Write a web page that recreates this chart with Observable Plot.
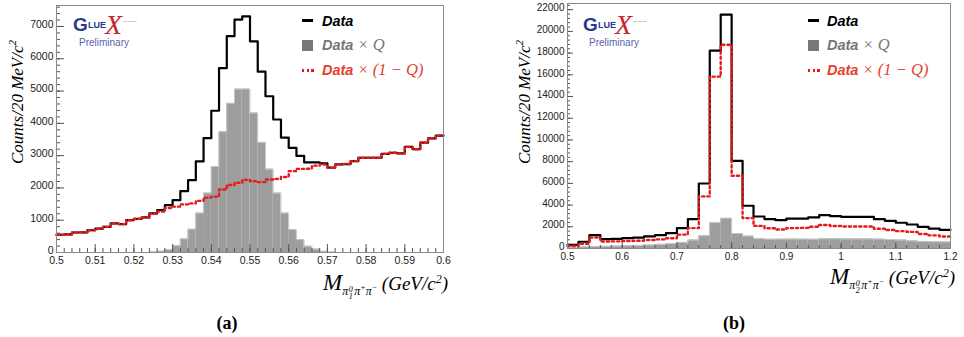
<!DOCTYPE html>
<html><head><meta charset="utf-8">
<script src="https://cdn.jsdelivr.net/npm/d3@7"></script>
<script src="https://cdn.jsdelivr.net/npm/@observablehq/plot@0.6"></script>
<style>
body{margin:0;background:#fff;}
#fig{position:relative;width:964px;height:337px;overflow:hidden;background:#fff;}
#fig svg{position:absolute;top:0;}
.ov{position:absolute;white-space:nowrap;line-height:1;}
.ytitle{font-family:"Liberation Serif","Times New Roman",serif;font-style:italic;font-size:17px;color:#000;transform:translate(-50%,-50%) rotate(-90deg);}
.xtitle{font-family:"Liberation Serif","Times New Roman",serif;font-style:italic;color:#000;transform:translateX(-100%);}
.xtitle .M{font-size:23px;}
.xtitle .sub{font-size:12px;position:relative;top:5px;}
.xtitle .stk{display:inline-block;vertical-align:-4px;font-size:8px;line-height:7.5px;text-align:center;margin:0 1.5px 0 0.5px;}
.xtitle .unit{font-size:19px;}
.cap{font-family:"Liberation Serif","Times New Roman",serif;font-weight:bold;font-size:18px;transform:translateX(-50%);}
.leg{font-family:"Liberation Sans",Arial,sans-serif;font-weight:bold;font-style:italic;font-size:14.5px;transform:translateY(-50%);}
.leg .ser{font-family:"Liberation Serif","Times New Roman",serif;font-weight:normal;font-size:16.5px;}
.logoG{font-family:"Liberation Sans",Arial,sans-serif;font-weight:bold;color:#2b3592;}
.logoX{font-family:"Liberation Serif",serif;font-style:italic;color:#c4262e;}
.prelim{font-family:"Liberation Sans",Arial,sans-serif;font-size:10px;color:#5a62b0;}
</style></head><body><div id="fig"></div>
<script>
// ---------- data: panel (a)  M(pi1^0 pi+ pi-), bins of 0.002 GeV from 0.5 ----------
const binStartA = 0.5, binWidthA = 0.002, nBinsA = 50;
const dataA = [550,560,620,625,690,740,795,900,880,1000,1040,1085,1210,1310,1465,1620,1900,2240,2820,3540,
  4390,5710,6700,7215,7315,6540,5600,4840,4120,3560,3240,2990,2790,2790,2760,2630,2730,2740,2830,2935,
  2935,2935,3055,3090,3070,3270,3200,3400,3535,3620];
const dataQA = [0,0,0,0,0,0,0,0,0,0,0,0,15,40,90,210,420,720,1220,1840,
  2660,3740,4620,5060,5060,4320,3410,2580,1840,1220,710,400,195,105,35,10,0,0,0,0,
  0,0,0,0,0,0,0,0,0,0];
const data1mQA = [550,560,620,625,690,740,795,900,880,1000,1040,1085,1195,1270,1380,1420,1490,1520,1600,1700,
  1730,1950,2090,2160,2250,2210,2180,2260,2280,2340,2520,2590,2595,2690,2725,2620,2730,2740,2830,2935,
  2935,2935,3055,3090,3070,3270,3200,3400,3535,3620];
const xTicksA = [0.5,0.51,0.52,0.53,0.54,0.55,0.56,0.57,0.58,0.59,0.6];
const yTicksA = [0,1000,2000,3000,4000,5000,6000,7000];

// ---------- data: panel (b)  M(pi2^0 pi+ pi-), bins of 0.02 GeV from 0.5 ----------
const binStartB = 0.5, binWidthB = 0.02, nBinsB = 35;
const dataB = [340,620,1230,860,890,950,1010,1110,1230,1410,1870,2700,5990,18220,21540,8080,3940,2950,2700,2610,
  2760,2760,2860,3070,2980,2920,2920,2920,2700,2550,2370,2210,2000,1840,1720];
const dataQB = [100,150,180,200,220,250,280,320,380,450,560,780,1170,2390,2780,1380,1140,900,850,860,
  870,860,850,900,900,880,880,880,860,830,780,700,650,620,600];
const data1mQB = [230,430,1020,650,660,690,720,780,840,950,1280,1880,4800,15830,18770,6700,2800,2080,1860,1750,
  1880,1900,2000,2160,2070,2030,2030,2030,1820,1700,1600,1530,1330,1210,1100];
const xTicksB = [0.5,0.6,0.7,0.8,0.9,1,1.1,1.2];
const yTicksB = [0,2000,4000,6000,8000,10000,12000,14000,16000,18000,20000,22000];

const RED = "#e41a1c";
const fig = document.getElementById("fig");

function panel(o) {
  const frameW = o.W - o.ml - o.mr, frameH = o.H - o.mt - o.mb;
  const rows = o.data.map((d, i) => {
    const x1 = +(o.start + i * o.bw).toFixed(4);
    return {x1, x2: +(x1 + o.bw).toFixed(4), data: d, q: o.q[i], bkg: o.bkg[i]};
  });
  const steps = key => rows.flatMap(r => [{x: r.x1, y: r[key]}, {x: r.x2, y: r[key]}]);
  const yMinor = d3.range(0, o.yDomain[1], o.yMinorStep);
  const xMinor = d3.range(0, Math.round((o.xDomain[1] - o.xDomain[0]) / o.xMinorStep) + 1)
    .map(i => +(o.xDomain[0] + i * o.xMinorStep).toFixed(4));
  const svg = Plot.plot({
    width: o.W, height: o.H,
    marginLeft: o.ml, marginRight: o.mr, marginTop: o.mt, marginBottom: o.mb,
    x: {domain: o.xDomain},
    y: {domain: o.yDomain},
    style: {fontFamily: '"Liberation Sans", Arial, sans-serif', fontSize: o.fs + "px", color: "#222", background: "transparent", overflow: "visible"},
    marks: [
      Plot.rectY(rows, {x1: "x1", x2: "x2", y: "q", fill: "#9d9d9d"}),
      Plot.line(steps("q"), {x: "x", y: "y", stroke: "#c6c6c6", strokeWidth: 1}),
      Plot.line(steps("data"), {x: "x", y: "y", stroke: "#000", strokeWidth: 2.2}),
      Plot.line(steps("bkg"), {x: "x", y: "y", stroke: RED, strokeWidth: 2.4, strokeDasharray: "2.2,3"}),
      Plot.tickY(yMinor, {y: d => d, stroke: "#555", insetRight: frameW - o.minorLen}),
      Plot.tickY(o.yTicks, {y: d => d, stroke: "#555", insetRight: frameW - o.majorLen}),
      Plot.tickX(xMinor, {x: d => d, stroke: "#555", insetTop: frameH - o.minorLen}),
      Plot.tickX(o.xTicks, {x: d => d, stroke: "#555", insetTop: frameH - o.majorLen}),
      Plot.axisY(o.yTicks, {tickSize: 0, tickPadding: 3, dy: o.ydy, label: null, tickFormat: d => String(d)}),
      Plot.axisX(o.xTicks, {tickSize: 0, tickPadding: o.xpad, label: null, tickFormat: d => String(d)}),
      Plot.frame({stroke: "#8a8a8a"})
    ]
  });
  svg.style.left = o.left + "px";
  fig.appendChild(svg);
}

panel({left: 0, W: 482, H: 265, ml: 56, mr: 39, mt: 5, mb: 13, fs: 10.5, ydy: -2, xpad: 4.5,
  start: binStartA, bw: binWidthA, data: dataA, q: dataQA, bkg: data1mQA,
  xDomain: [0.5, 0.6], yDomain: [0, 7650], xTicks: xTicksA, yTicks: yTicksA,
  xMinorStep: 0.002, yMinorStep: 200, majorLen: 8, minorLen: 4});

panel({left: 482, W: 482, H: 265, ml: 85, mr: 14, mt: 3, mb: 17, fs: 10, ydy: -1.5, xpad: 4,
  start: binStartB, bw: binWidthB, data: dataB, q: dataQB, bkg: data1mQB,
  xDomain: [0.5, 1.2], yDomain: [0, 22570], xTicks: xTicksB, yTicks: yTicksB,
  xMinorStep: 0.02, yMinorStep: 400, majorLen: 6, minorLen: 3});

function ov(html, cls, left, top) {
  const d = document.createElement("div");
  d.className = "ov " + cls;
  d.style.left = left + "px"; d.style.top = top + "px";
  d.innerHTML = html;
  fig.appendChild(d);
  return d;
}
const yTitle = 'Counts/20 MeV/c<sup style="font-size:11px;vertical-align:7px">2</sup>';
ov(yTitle, "ytitle", 16, 102);
ov(yTitle, "ytitle", 523, 102);

function xTitle(idx) {
  return '<span class="M">M</span><span class="sub">π<span class="stk">0<br>' + idx +
    '</span>π<sup style="font-size:8px">+</sup>π<sup style="font-size:8px">−</sup></span>' +
    '<span class="unit">&nbsp;(GeV/c<sup style="font-size:12px">2</sup>)</span>';
}
ov(xTitle(1), "xtitle", 448, 271);
ov(xTitle(2), "xtitle", 955, 265);

ov("(a)", "cap", 227, 314);
ov("(b)", "cap", 734, 314);

function legend(mx, tx) {
  const rows = [20.7, 45, 70];
  const l1 = document.createElement("div");
  l1.style.cssText = `position:absolute;left:${mx}px;top:${rows[0] - 1.5}px;width:11px;height:3px;background:#000;`;
  fig.appendChild(l1);
  const l2 = document.createElement("div");
  l2.style.cssText = `position:absolute;left:${mx}px;top:${rows[1] - 5.5}px;width:11px;height:11px;background:#777;`;
  fig.appendChild(l2);
  const l3 = document.createElement("div");
  l3.style.cssText = `position:absolute;left:${mx}px;top:${rows[2] - 1.5}px;width:12px;height:3px;background:repeating-linear-gradient(90deg,${RED} 0 2.5px,transparent 2.5px 4.6px);`;
  fig.appendChild(l3);
  ov("Data", "leg", tx, rows[0]).style.color = "#000";
  ov('Data<span class="ser"> × <i>Q</i></span>', "leg", tx, rows[1]).style.color = "#777";
  ov('Data<span class="ser"> × (1 − <i>Q</i>)</span>', "leg", tx, rows[2]).style.color = "#e3422e";
}
legend(302, 322);
legend(808, 827);

function logo(x) {
  ov('G', "logoG", x, 15).style.fontSize = "19px";
  const lue = ov('LUE', "logoG", x + 15, 21);
  lue.style.fontSize = "9px";
  ov('X', "logoX", x + 32, 11).style.fontSize = "28px";
  const w = ov('~~~', "", x + 50, 18); w.style.cssText += "font-size:8px;color:#7fb27f;font-family:'Liberation Sans';";
  ov('Preliminary', "prelim", x + 6, 38);
}
logo(73);
logo(583);
</script></body></html>
